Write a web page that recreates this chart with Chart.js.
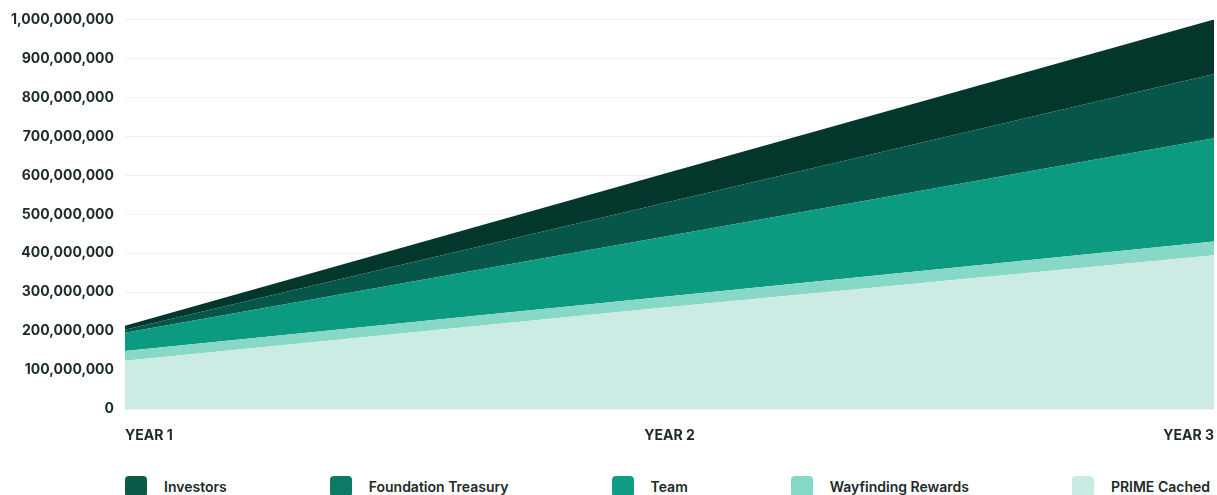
<!DOCTYPE html>
<html>
<head>
<meta charset="utf-8">
<script src="https://cdn.jsdelivr.net/npm/chart.js@4/dist/chart.umd.min.js"></script>
<style>
  html, body { margin: 0; padding: 0; background: #ffffff; }
  body { width: 1217px; height: 495px; overflow: hidden; position: relative; font-family: Inter, "Noto Sans", sans-serif; }
  #wrap { position: absolute; left: 0; top: 0; width: 1217px; height: 468px; }
  #legend { position: absolute; left: 125px; top: 476px; width: 1085px; display: flex; justify-content: space-between; align-items: center; }
  .item { display: flex; align-items: center; }
  .box { width: 22px; height: 21px; border-radius: 4px; margin-right: 17px; }
  .lbl { font-size: 14px; font-weight: 600; color: #1c2a28; line-height: 21px; }
</style>
</head>
<body>
<div id="wrap"><canvas id="c"></canvas></div>
<div id="legend"></div>
<script>
const categories = ['YEAR 1', 'YEAR 2', 'YEAR 3'];
const primeCached = [124000000, 262000000, 395000000];
const wayfindingRewards = [25000000, 28000000, 35000000];
const team = [47000000, 155000000, 265000000];
const foundationTreasury = [8000000, 87000000, 165000000];
const investors = [10000000, 76000000, 140000000];
const yTickMax = 1000000000;
const yTickStep = 100000000;

const legendOrder = ['Investors', 'Foundation Treasury', 'Team', 'Wayfinding Rewards', 'PRIME Cached'];
const legendColors = {
  'Investors': '#0b5a48',
  'Foundation Treasury': '#0e7a66',
  'Team': '#0e9e84',
  'Wayfinding Rewards': '#86d8c6',
  'PRIME Cached': '#cbeae4'
};

const datasets = [
  { label: 'PRIME Cached', data: primeCached, backgroundColor: '#cdebe5', fill: 'origin' },
  { label: 'Wayfinding Rewards', data: wayfindingRewards, backgroundColor: '#88d8c8', fill: '-1' },
  { label: 'Team', data: team, backgroundColor: '#0c9b80', fill: '-1' },
  { label: 'Foundation Treasury', data: foundationTreasury, backgroundColor: '#06574a', fill: '-1' },
  { label: 'Investors', data: investors, backgroundColor: '#03372b', fill: '-1' }
].map(d => Object.assign(d, { borderWidth: 0, pointRadius: 0, pointHoverRadius: 0, tension: 0 }));

const textColor = '#1c2a28';

new Chart(document.getElementById('c'), {
  type: 'line',
  data: { labels: categories, datasets },
  options: {
    responsive: true,
    maintainAspectRatio: false,
    animation: false,
    layout: { padding: { top: 12, right: 3, bottom: 14, left: 0 } },
    plugins: { legend: { display: false }, tooltip: { enabled: false } },
    scales: {
      x: {
        offset: false,
        afterFit: s => { s.paddingLeft = 0; s.paddingRight = 0; },
        grid: { display: false },
        border: { display: false },
        ticks: {
          align: 'inner',
          padding: 10,
          maxRotation: 0,
          color: textColor,
          font: { family: 'Inter', size: 14, weight: 'bold' }
        }
      },
      y: {
        stacked: true,
        min: 0,
        max: yTickMax,
        z: 1,
        afterFit: s => { s.width = 125; },
        grid: { color: 'rgba(0,0,0,0.06)', drawTicks: false, lineWidth: 1 },
        border: { display: false },
        ticks: {
          stepSize: yTickStep,
          padding: 11,
          color: textColor,
          font: { family: 'Inter', size: 14, weight: 'bold' },
          callback: v => Number(v).toLocaleString('en-US')
        }
      }
    }
  }
});

const leg = document.getElementById('legend');
legendOrder.forEach(name => {
  const it = document.createElement('div');
  it.className = 'item';
  const b = document.createElement('div');
  b.className = 'box';
  b.style.background = legendColors[name];
  const t = document.createElement('span');
  t.className = 'lbl';
  t.textContent = name;
  it.appendChild(b); it.appendChild(t);
  leg.appendChild(it);
});
</script>
</body>
</html>
